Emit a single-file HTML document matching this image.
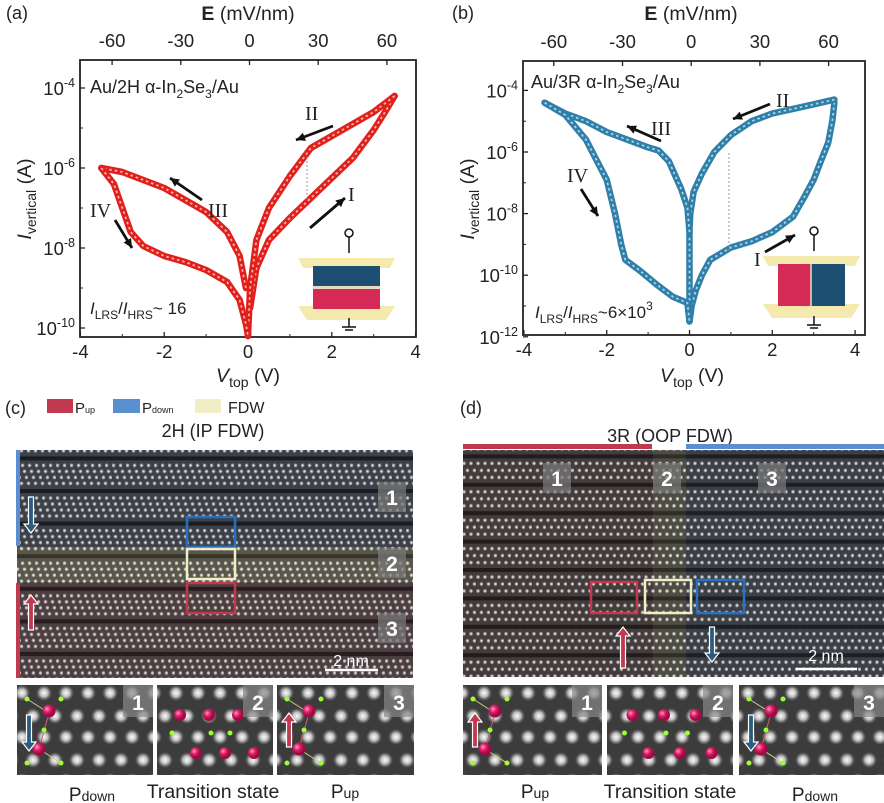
<!DOCTYPE html>
<html><head><meta charset="utf-8"><style>
html,body{margin:0;padding:0;background:#fff;width:884px;height:803px;overflow:hidden}
svg{display:block;font-family:"Liberation Sans",sans-serif}
</style></head><body>
<svg id="fig" width="884" height="803" viewBox="0 0 884 803" xmlns="http://www.w3.org/2000/svg">
<defs>
 <radialGradient id="dotg"><stop offset="0" stop-color="#fff"/><stop offset="0.5" stop-color="#ddd" stop-opacity="0.8"/><stop offset="1" stop-color="#888" stop-opacity="0"/></radialGradient>
 <pattern id="latC" width="7" height="32.6" patternUnits="userSpaceOnUse">
  <rect width="7" height="32.6" fill="#3a3a3a"/><rect y="0" width="7" height="4" fill="#111"/>
  <circle cx="1.5" cy="9" r="2.4" fill="url(#dotg)"/><circle cx="3.5" cy="15" r="2.4" fill="url(#dotg)"/>
  <circle cx="5.5" cy="21" r="2.4" fill="url(#dotg)"/><circle cx="0.5" cy="27" r="2.4" fill="url(#dotg)"/><circle cx="7.5" cy="27" r="2.4" fill="url(#dotg)"/>
 </pattern>
 <pattern id="latD" width="7" height="28.4" patternUnits="userSpaceOnUse">
  <rect width="7" height="28.4" fill="#353535"/><rect width="7" height="4" fill="#111"/>
  <circle cx="2" cy="9" r="2.4" fill="url(#dotg)"/><circle cx="5.5" cy="16" r="2.4" fill="url(#dotg)"/><circle cx="2" cy="23" r="2.4" fill="url(#dotg)"/>
 </pattern>
 <pattern id="blob" width="22" height="44" patternUnits="userSpaceOnUse">
  <rect width="22" height="44" fill="#3c3c3c"/>
  <circle cx="11" cy="12" r="8" fill="url(#dotg)"/><circle cx="0" cy="33" r="8" fill="url(#dotg)"/><circle cx="22" cy="33" r="8" fill="url(#dotg)"/>
 </pattern>
 <radialGradient id="pink" cx="0.35" cy="0.35"><stop offset="0" stop-color="#ff9ac4"/><stop offset="0.5" stop-color="#e0206a"/><stop offset="1" stop-color="#a00a44"/></radialGradient>
</defs>
<g id="chartA"></g>
<g id="chartB"></g>
<g id="stem"></g>
</svg>
<script>
// ---------- Panel (a) data ----------
const aBranchIV_V=[0.05,0.2,0.5,1.0,1.5,2.0,2.5,3.0,3.3,3.5];
const aBranchI_logI=[-9.5,-8.5,-7.8,-7.25,-6.75,-6.25,-5.75,-5.05,-4.55,-4.2];
const aBranchII_V=[3.5,3.0,2.5,2.0,1.5,1.0,0.5,0.2,0.05,0];
const aBranchII_logI=[-4.2,-4.6,-4.9,-5.2,-5.5,-6.2,-7.0,-7.8,-9.0,-10.2];
const aBranchIII_V=[-0.05,-0.2,-0.5,-1.0,-1.5,-2.0,-2.5,-3.0,-3.5];
const aBranchIII_logI=[-9.0,-8.2,-7.6,-7.1,-6.8,-6.5,-6.3,-6.1,-6.0];
const aBranchIVb_V=[-3.5,-3.2,-3.0,-2.8,-2.5,-2.0,-1.5,-1.0,-0.5,-0.2,-0.05,0];
const aBranchIVb_logI=[-6.0,-6.4,-7.0,-7.6,-7.95,-8.2,-8.35,-8.55,-8.85,-9.3,-9.9,-10.2];
// ---------- Panel (b) data ----------
const bBranchI_V=[0,0.05,0.15,0.3,0.5,1.0,1.5,2.0,2.5,2.8,3.0,3.2,3.35,3.45,3.5];
const bBranchI_logI=[-11.5,-11.0,-10.5,-10.0,-9.5,-9.1,-8.9,-8.6,-8.1,-7.4,-6.9,-6.2,-5.7,-5.0,-4.4];
const bBranchII_V=[3.5,3.0,2.5,2.0,1.5,1.0,0.6,0.3,0.1,0.02,0,0];
const bBranchII_logI=[-4.3,-4.45,-4.6,-4.75,-5.0,-5.45,-6.0,-6.7,-7.3,-8.0,-8.5,-11.5];
const bBranchIII_V=[0,-0.05,-0.2,-0.5,-0.75,-1.0,-1.5,-2.0,-2.5,-3.0,-3.5];
const bBranchIII_logI=[-8.6,-7.8,-7.2,-6.3,-5.95,-5.85,-5.6,-5.35,-5.0,-4.75,-4.4];
const bBranchIV_V=[-3.5,-3.0,-2.5,-2.0,-1.8,-1.65,-1.55,-1.2,-0.8,-0.4,-0.05,0];
const bBranchIV_logI=[-4.4,-4.8,-5.6,-6.9,-8.0,-9.0,-9.5,-9.85,-10.3,-10.7,-10.9,-11.5];
// ticks
const xTicks=[-4,-2,0,2,4];
const eTicks=[-60,-30,0,30,60];
const aYTicks=[-4,-6,-8,-10];
const bYTicks=[-4,-6,-8,-10,-12];

const NS="http://www.w3.org/2000/svg";
function mk(parent,tag,attrs,text){const e=document.createElementNS(NS,tag);for(const k in attrs)e.setAttribute(k,attrs[k]);if(text!==undefined)e.textContent=text;parent.appendChild(e);return e;}

function drawChart(g,cfg){
  const X=v=>cfg.x0+v*cfg.xs, Y=l=>cfg.y6-(l+6)*cfg.ys, E=e=>cfg.e0+e*cfg.es;
  const fr=mk(g,'rect',{x:cfg.L,y:cfg.T,width:cfg.R-cfg.L,height:cfg.B-cfg.T,fill:'none',stroke:'#222','stroke-width':1.8});
  
  
  xTicks.forEach(v=>{
    mk(g,'line',{x1:X(v),x2:X(v),y1:cfg.B,y2:cfg.B-5,stroke:'#222','stroke-width':1.3});
    if(v<4) mk(g,'line',{x1:X(v+1),x2:X(v+1),y1:cfg.B,y2:cfg.B-3,stroke:'#222','stroke-width':1});
    const t=mk(g,'text',{x:X(v),y:cfg.B+21,'font-size':18.5,'text-anchor':'middle',fill:'#222'},String(v));
    
    
  });
  eTicks.forEach(e=>{
    mk(g,'line',{x1:E(e),x2:E(e),y1:cfg.T,y2:cfg.T+5,stroke:'#222','stroke-width':1.3});
    const t=mk(g,'text',{x:E(e),y:cfg.T-13,'font-size':18.5,'text-anchor':'middle',fill:'#222'},String(e));
    
    
  });
  cfg.yt.forEach(l=>{
    mk(g,'line',{x1:cfg.L,x2:cfg.L+5,y1:Y(l),y2:Y(l),stroke:'#222','stroke-width':1.3});
    if(Y(l+1)>cfg.T) mk(g,'line',{x1:cfg.L,x2:cfg.L+3,y1:Y(l+1),y2:Y(l+1),stroke:'#222','stroke-width':1});
    const t=mk(g,'text',{x:cfg.L-5,y:Y(l)+7,'font-size':18.5,'text-anchor':'end',fill:'#222'});
    
    
    mk(t,'tspan',{},'10');mk(t,'tspan',{'font-size':12.5,dy:-8},String(l));
  });
  cfg.series.forEach(s=>{
    const pts=s[0].map((v,i)=>X(v).toFixed(1)+','+Y(s[1][i]).toFixed(1)).join(' ');
    const p=mk(g,'polyline',{points:pts,fill:'none',stroke:cfg.col,'stroke-width':6.5,'stroke-linejoin':'round','stroke-linecap':'round'});
    
    
    mk(g,'polyline',{points:pts,fill:'none',stroke:cfg.light,'stroke-width':1.8,'stroke-dasharray':'2.5 3','stroke-linejoin':'round'});
  });
}
const A=document.getElementById('chartA'),B=document.getElementById('chartB');
drawChart(A,{L:80,R:416,T:60,B:337,x0:248,xs:41.9,y6:168,ys:40,e0:249.5,es:2.29,yt:aYTicks,col:'#e0201c',light:'#ffb0a8',
 series:[[aBranchIV_V,aBranchI_logI],[aBranchII_V,aBranchII_logI],[aBranchIII_V,aBranchIII_logI],[aBranchIVb_V,aBranchIVb_logI]]});
drawChart(B,{L:523,R:865,T:61,B:335,x0:689.5,xs:41.4,y6:152,ys:30.8,e0:691.2,es:2.29,yt:bYTicks,col:'#2f7fa8',light:'#a9d3ea',
 series:[[bBranchI_V,bBranchI_logI],[bBranchII_V,bBranchII_logI],[bBranchIII_V,bBranchIII_logI],[bBranchIV_V,bBranchIV_logI]]});
</script>
<script>
const S=document.getElementById('stem');
function arrow(x1,y1,x2,y2,c,w){return `<line x1="${x1}" y1="${y1}" x2="${x2}" y2="${y2}" stroke="${c}" stroke-width="${w||2.8}"/>`+(()=>{const a=Math.atan2(y2-y1,x2-x1),L=10;const p1=[x2-L*Math.cos(a-0.45),y2-L*Math.sin(a-0.45)],p2=[x2-L*Math.cos(a+0.45),y2-L*Math.sin(a+0.45)];return `<polygon points="${x2},${y2} ${p1} ${p2}" fill="${c}"/>`})();}
function blockArrow(x,y1,y2,c){const up=y2<y1;const hy=up?y2+9:y2-9;return `<path d="M${x-2.5},${y1} L${x-2.5},${hy} L${x-7},${hy} L${x},${y2} L${x+7},${hy} L${x+2.5},${hy} L${x+2.5},${y1} Z" fill="${c}" stroke="#fff" stroke-width="1.2"/>`;}
function numBox(x,y,n){return `<g><rect x="${x}" y="${y}" width="28" height="30" fill="#777" opacity="0.75"/><text x="${x+14}" y="${y+23}" font-size="21" font-weight="bold" fill="#fff" text-anchor="middle">${n}</text></g>`;}
function inset(x,y,w,h,kind,n){let s=`<g><rect x="${x}" y="${y}" width="${w}" height="${h}" fill="url(#blob)"/>`;
 if(kind==='T'){const dx=w/4;[1,2,3].forEach(i=>{s+=`<circle cx="${x+i*dx-6}" cy="${y+30}" r="6" fill="url(#pink)"/><circle cx="${x+i*dx+10}" cy="${y+68}" r="6" fill="url(#pink)"/>`;});[1,2,3].forEach(i=>{s+=`<circle cx="${x+i*dx-14+(i==2?10:0)}" cy="${y+48}" r="2.5" fill="#9f3"/>`;});}
 else {s+=`<line x1="${x+10}" y1="${y+14}" x2="${x+32}" y2="${y+28}" stroke="#cc8" stroke-width="1"/><line x1="${x+32}" y1="${y+28}" x2="${x+22}" y2="${y+64}" stroke="#c66" stroke-width="1"/><line x1="${x+22}" y1="${y+64}" x2="${x+44}" y2="${y+78}" stroke="#cc8" stroke-width="1"/>
 <circle cx="${x+32}" cy="${y+26}" r="6.5" fill="url(#pink)"/><circle cx="${x+22}" cy="${y+64}" r="6.5" fill="url(#pink)"/>
 <circle cx="${x+10}" cy="${y+14}" r="2.5" fill="#9f3"/><circle cx="${x+44}" cy="${y+14}" r="2.5" fill="#9f3"/><circle cx="${x+27}" cy="${y+45}" r="2.5" fill="#9f3"/><circle cx="${x+10}" cy="${y+78}" r="2.5" fill="#9f3"/><circle cx="${x+44}" cy="${y+78}" r="2.5" fill="#9f3"/>`;
 s+= kind==='U'?blockArrow(x+12,y+62,y+28,'#c0394f'):blockArrow(x+12,y+30,y+66,'#2b5c80');}
 s+=`<rect x="${x+w-30}" y="${y}" width="30" height="32" fill="#888" opacity="0.7"/><text x="${x+w-15}" y="${y+25}" font-size="21" font-weight="bold" fill="#fff" text-anchor="middle">${n}</text></g>`;return s;}
function device(x,y,vert){let s=`<g>
<line x1="${x+51}" y1="${y+8}" x2="${x+51}" y2="${y+25}" stroke="#111" stroke-width="1.5"/><circle cx="${x+51}" cy="${y+5}" r="4" fill="#fff" stroke="#111" stroke-width="1.5"/>
<polygon points="${x},${y+30} ${x+97},${y+30} ${x+92},${y+40} ${x+5},${y+40}" fill="#f4eaae"/><polygon points="${x},${y+78} ${x+97},${y+78} ${x+88},${y+92} ${x+9},${y+92}" fill="#f4eaae"/>`;
 if(!vert) s+=`<rect x="${x+15}" y="${y+38}" width="67" height="20" fill="#1d4f73"/><rect x="${x+15}" y="${y+58}" width="67" height="3" fill="#e8dcc0"/><rect x="${x+15}" y="${y+61}" width="67" height="20" fill="#d52a55"/>`;
 else s+=`<rect x="${x+15}" y="${y+38}" width="33" height="42" fill="#d52a55"/><rect x="${x+48}" y="${y+38}" width="34" height="42" fill="#1d4f73"/><line x1="${x+48}" y1="${y+38}" x2="${x+48}" y2="${y+80}" stroke="#e8dcc0" stroke-width="1.5"/>`;
 s+=`<line x1="${x+51}" y1="${y+90}" x2="${x+51}" y2="${y+99}" stroke="#111" stroke-width="1.5"/><line x1="${x+44}" y1="${y+99}" x2="${x+58}" y2="${y+99}" stroke="#111" stroke-width="1.5"/><line x1="${x+47}" y1="${y+102}" x2="${x+55}" y2="${y+102}" stroke="#111" stroke-width="1.5"/></g>`;return s;}
const ser='font-family="Liberation Serif,serif"';
S.innerHTML=`
<text x="6" y="19" font-size="18" fill="#222">(a)</text>
<text x="248" y="20" font-size="19.5" text-anchor="middle" fill="#222"><tspan font-weight="bold">E</tspan> (mV/nm)</text>
<text x="248" y="382" font-size="19.5" text-anchor="middle" fill="#222"><tspan font-style="italic">V</tspan><tspan font-size="14" dy="5">top</tspan><tspan dy="-5"> (V)</tspan></text>
<text transform="translate(31,199) rotate(-90)" font-size="19.5" text-anchor="middle" fill="#222"><tspan font-style="italic">I</tspan><tspan font-size="14" dy="5">vertical</tspan><tspan dy="-5"> (A)</tspan></text>
<text x="90" y="93" font-size="18" fill="#222">Au/2H α-In<tspan font-size="12" dy="5">2</tspan><tspan dy="-5">Se</tspan><tspan font-size="12" dy="5">3</tspan><tspan dy="-5">/Au</tspan></text>
<text x="90" y="314" font-size="17" fill="#222"><tspan font-style="italic">I</tspan><tspan font-size="12" dy="5">LRS</tspan><tspan dy="-5">/</tspan><tspan font-style="italic">I</tspan><tspan font-size="12" dy="5">HRS</tspan><tspan dy="-5">~ 16</tspan></text>
<text x="305" y="120" font-size="20" ${ser} fill="#222">II</text><text x="348" y="201" font-size="20" ${ser} fill="#222">I</text>
<text x="208" y="217" font-size="20" ${ser} fill="#222">III</text><text x="90" y="217" font-size="20" ${ser} fill="#222">IV</text>
${arrow(333,126,296,140,'#111')}${arrow(310,228,345,198,'#111')}${arrow(202,200,170,178,'#111')}${arrow(115,220,132,248,'#111')}
<line x1="307" y1="153" x2="307" y2="200" stroke="#999" stroke-width="1" stroke-dasharray="2 2"/>
${device(298,228,false)}
<text x="452" y="19" font-size="18" fill="#222">(b)</text>
<text x="691" y="20" font-size="19.5" text-anchor="middle" fill="#222"><tspan font-weight="bold">E</tspan> (mV/nm)</text>
<text x="692" y="382" font-size="19.5" text-anchor="middle" fill="#222"><tspan font-style="italic">V</tspan><tspan font-size="14" dy="5">top</tspan><tspan dy="-5"> (V)</tspan></text>
<text transform="translate(474,199) rotate(-90)" font-size="19.5" text-anchor="middle" fill="#222"><tspan font-style="italic">I</tspan><tspan font-size="14" dy="5">vertical</tspan><tspan dy="-5"> (A)</tspan></text>
<text x="531" y="88" font-size="18" fill="#222">Au/3R α-In<tspan font-size="12" dy="5">2</tspan><tspan dy="-5">Se</tspan><tspan font-size="12" dy="5">3</tspan><tspan dy="-5">/Au</tspan></text>
<text x="535" y="318" font-size="17" fill="#222"><tspan font-style="italic">I</tspan><tspan font-size="12" dy="5">LRS</tspan><tspan dy="-5">/</tspan><tspan font-style="italic">I</tspan><tspan font-size="12" dy="5">HRS</tspan><tspan dy="-5">~6×10</tspan><tspan font-size="12" dy="-8">3</tspan></text>
<text x="776" y="107" font-size="20" ${ser} fill="#222">II</text><text x="651" y="135" font-size="20" ${ser} fill="#222">III</text>
<text x="567" y="182" font-size="20" ${ser} fill="#222">IV</text><text x="754" y="266" font-size="20" ${ser} fill="#222">I</text>
${arrow(770,104,733,119,'#111')}${arrow(661,141,627,126,'#111')}${arrow(581,189,598,216,'#111')}${arrow(765,252,795,235,'#111')}
<line x1="729" y1="153" x2="729" y2="250" stroke="#999" stroke-width="1" stroke-dasharray="2 2"/>
${device(763,226,true)}
<text x="5" y="414" font-size="18" fill="#222">(c)</text>
<g>
<rect x="47" y="399" width="26" height="14" fill="#c0394f"/><text x="75" y="413" font-size="15" fill="#222">P<tspan font-size="9">up</tspan></text>
<rect x="113" y="399" width="27" height="14" fill="#5b8ed0"/><text x="142" y="413" font-size="15" fill="#222">P<tspan font-size="9">down</tspan></text>
<rect x="195" y="399" width="26" height="14" fill="#efeec4"/><text x="228" y="413" font-size="16" fill="#222">FDW</text></g>
<text x="213" y="437" font-size="18" text-anchor="middle" fill="#222">2H (IP FDW)</text>
<g>
<rect x="17" y="450" width="396" height="228" fill="url(#latC)"/>
<rect x="17" y="450" width="396" height="97" fill="#5a7eb0" opacity="0.12"/>
<rect x="17" y="547" width="396" height="35" fill="#e8e0a0" opacity="0.18"/>
<rect x="17" y="582" width="396" height="96" fill="#c06070" opacity="0.14"/></g>
<rect x="16" y="450" width="4" height="96" fill="#5b8ed0"/><rect x="16" y="583" width="4" height="95" fill="#c0394f"/>
${blockArrow(31,497,533,'#2b5c80')}${blockArrow(31,630,595,'#c0394f')}
<rect x="187" y="517" width="48" height="30" fill="none" stroke="#2a6fc0" stroke-width="2.5"/>
<rect x="187" y="549" width="48" height="30" fill="none" stroke="#efeec4" stroke-width="2.5"/>
<rect x="187" y="583" width="48" height="30" fill="none" stroke="#c0394f" stroke-width="2.5"/>
${numBox(378,482,1)}${numBox(378,548,2)}${numBox(378,613,3)}
<line x1="325" y1="670" x2="378" y2="670" stroke="#fff" stroke-width="2.5"/><text x="351" y="666" font-size="16" fill="#fff" text-anchor="middle">2 nm</text>
${inset(17,685,136,90,'D',1)}${inset(157,685,116,90,'T',2)}${inset(277,685,137,90,'U',3)}
<text x="92" y="801" font-size="19" text-anchor="middle" fill="#222">P<tspan font-size="14">down</tspan></text>
<text x="213" y="798" font-size="19.5" text-anchor="middle" fill="#222">Transition state</text>
<text x="345" y="798" font-size="19" text-anchor="middle" fill="#222">P<tspan font-size="14">up</tspan></text>
<text x="460" y="414" font-size="18" fill="#222">(d)</text>
<text x="670" y="442" font-size="18" text-anchor="middle" fill="#222">3R (OOP FDW)</text>
<rect x="463" y="444" width="189" height="5" fill="#c0394f"/><rect x="686" y="444" width="198" height="5" fill="#5b8ed0"/>
<g>
<rect x="463" y="450" width="421" height="227" fill="url(#latD)"/>
<rect x="463" y="450" width="190" height="227" fill="#b07070" opacity="0.12"/>
<rect x="653" y="450" width="33" height="227" fill="#e8e0a0" opacity="0.14"/>
<rect x="686" y="450" width="198" height="227" fill="#7090b8" opacity="0.12"/></g>
<rect x="591" y="582" width="46" height="31" fill="none" stroke="#c0394f" stroke-width="2.5"/>
<rect x="645" y="580" width="46" height="33" fill="none" stroke="#efeec4" stroke-width="2.5"/>
<rect x="697" y="580" width="47" height="33" fill="none" stroke="#2a6fc0" stroke-width="2.5"/>
${blockArrow(623,668,627,'#c0394f')}${blockArrow(712,627,662,'#2b5c80')}
${numBox(543,463,1)}${numBox(653,463,2)}${numBox(758,463,3)}
<line x1="796" y1="669" x2="857" y2="669" stroke="#fff" stroke-width="2.5"/><text x="826" y="661" font-size="16" fill="#fff" text-anchor="middle">2 nm</text>
${inset(463,685,139,90,'U',1)}${inset(607,685,126,90,'T',2)}${inset(739,685,145,90,'D',3)}
<text x="535" y="798" font-size="19" text-anchor="middle" fill="#222">P<tspan font-size="14">up</tspan></text>
<text x="670" y="798" font-size="19.5" text-anchor="middle" fill="#222">Transition state</text>
<text x="815" y="801" font-size="19" text-anchor="middle" fill="#222">P<tspan font-size="14">down</tspan></text>
`;
</script>
</body></html>
